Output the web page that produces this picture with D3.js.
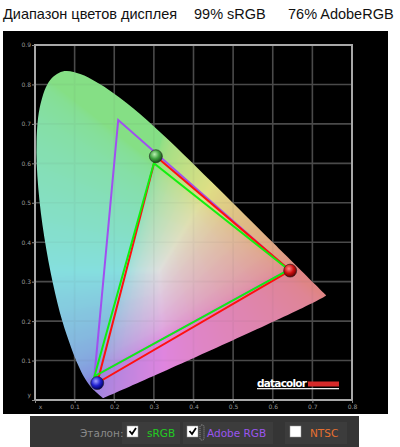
<!DOCTYPE html>
<html><head><meta charset="utf-8">
<script src="https://cdn.jsdelivr.net/npm/d3@7"></script>
<style>body{margin:0;background:#fff;overflow:hidden} svg{display:block}</style>
</head><body>
<svg id="c" width="400" height="447"></svg>
<script>
// ---- data ----
const locusX = [0.1741,0.1733,0.1714,0.1689,0.1644,0.1566,0.1440,0.1241,0.1096,0.0913,0.0687,0.0454,0.0235,0.0082,0.0039,0.0139,0.0389,0.0743,0.1142,0.1547,0.1929,0.2296,0.2658,0.3016,0.3373,0.3731,0.4087,0.4441,0.4788,0.5125,0.5448,0.5752,0.6029,0.6270,0.6658,0.6915,0.7079,0.7190,0.7260,0.7300,0.7334,0.7347];
const locusY = [0.0050,0.0048,0.0051,0.0069,0.0109,0.0177,0.0297,0.0578,0.0868,0.1327,0.2007,0.2950,0.4127,0.5384,0.6548,0.7502,0.8120,0.8338,0.8262,0.8059,0.7816,0.7543,0.7243,0.6923,0.6589,0.6245,0.5896,0.5547,0.5202,0.4866,0.4544,0.4242,0.3965,0.3725,0.3340,0.3083,0.2920,0.2809,0.2740,0.2700,0.2666,0.2653];
const tickValues = [0,0.1,0.2,0.3,0.4,0.5,0.6,0.7,0.8,0.9];
const xTickLabels = ["x","0.1","0.2","0.3","0.4","0.5","0.6","0.7","0.8"];
const yTickLabels = ["y","0.1","0.2","0.3","0.4","0.5","0.6","0.7","0.8","0.9"];
const adobeX = [0.64,0.21,0.15], adobeY = [0.33,0.71,0.06];
const srgbX  = [0.64,0.30,0.15], srgbY  = [0.33,0.60,0.06];
const dispX  = [0.644,0.305,0.157], dispY = [0.328,0.618,0.043];
const titleParts = ["Диапазон цветов дисплея","99% sRGB","76% AdobeRGB"];
const legendLabels = ["Эталон:","sRGB","Adobe RGB","NTSC"];
const legendChecked = [true,true,false];

// ---- layout ----
const svg = d3.select("#c");
const x = d3.scaleLinear().domain([0,0.8]).range([35,352]);
const y = d3.scaleLinear().domain([0,0.9]).range([400,45]);

// title
const titleX = [3,194,288];
svg.selectAll("text.title").data(titleParts).join("text")
  .attr("class","title").attr("x",(d,i)=>titleX[i]).attr("y",19)
  .attr("font-family","'Liberation Sans',Arial,sans-serif").attr("font-size",14.5)
  .attr("fill","#111").text(d=>d);

// black panel
svg.append("rect").attr("x",3).attr("y",31).attr("width",385).attr("height",383).attr("fill","#000");

const defs = svg.append("defs");

// grid
const gridG = svg.append("g");
gridG.selectAll("line.v").data(tickValues.filter(t=>t>0&&t<0.8)).join("line")
  .attr("x1",d=>x(d)).attr("x2",d=>x(d)).attr("y1",y(0.9)).attr("y2",y(0))
  .attr("stroke","#4a4a4a").attr("stroke-width",1.6);
gridG.selectAll("line.h").data(tickValues.filter(t=>t>0&&t<0.9)).join("line")
  .attr("y1",d=>y(d)).attr("y2",d=>y(d)).attr("x1",x(0)).attr("x2",x(0.8))
  .attr("stroke","#4a4a4a").attr("stroke-width",1.6);

// spectral locus
const locus = locusX.map((v,i)=>[v,locusY[i]]);
const locusPath = d3.line().x(d=>x(d[0])).y(d=>y(d[1])).curve(d3.curveCatmullRomClosed.alpha(0.5))(locus);
defs.append("clipPath").attr("id","lc").append("path").attr("d",locusPath);

// colour field via canvas
const W = 320, H = 360;
const cv = document.createElement("canvas"); cv.width=W; cv.height=H;
const ctx = cv.getContext("2d");
const img = ctx.createImageData(W,H);
function enc(c){ c=Math.max(0,Math.min(1,c)); return c<=0.0031308?12.92*c:1.055*Math.pow(c,1/2.4)-0.055; }
for(let j=0;j<H;j++){
  for(let i=0;i<W;i++){
    const cx = x.invert(35+i), cy = Math.max(0.002, y.invert(45+j));
    const X = cx/cy, Y = 1, Z = (1-cx-cy)/cy;
    let r = 3.2406*X-1.5372*Y-0.4986*Z;
    let g = -0.9689*X+1.8758*Y+0.0415*Z;
    let b = 0.0557*X-0.2040*Y+1.0570*Z;
    r=Math.max(0,r); g=Math.max(0,g); b=Math.max(0,b);
    const m = Math.max(r,g,b)||1;
    r=enc(r/m); g=enc(g/m); b=enc(b/m);
    const s = 0.4, k = 0.92;
    r = k*(1-s*(1-r)); g = k*(1-s*(1-g)); b = k*(1-s*(1-b));
    const o = (j*W+i)*4;
    img.data[o]=r*255; img.data[o+1]=g*255; img.data[o+2]=b*255; img.data[o+3]=255;
  }
}
ctx.putImageData(img,0,0);
svg.append("image").attr("x",35).attr("y",45).attr("width",W).attr("height",H)
  .attr("href",cv.toDataURL()).attr("clip-path","url(#lc)").attr("opacity",0.95);

// faint grid over the fill
svg.append("g").attr("clip-path","url(#lc)").attr("opacity",0.05).call(g=>{
  g.selectAll("line.v").data(tickValues.filter(t=>t>0&&t<0.8)).join("line")
   .attr("x1",d=>x(d)).attr("x2",d=>x(d)).attr("y1",y(0.9)).attr("y2",y(0)).attr("stroke","#000").attr("stroke-width",1.6);
  g.selectAll("line.h").data(tickValues.filter(t=>t>0&&t<0.9)).join("line")
   .attr("y1",d=>y(d)).attr("y2",d=>y(d)).attr("x1",x(0)).attr("x2",x(0.8)).attr("stroke","#000").attr("stroke-width",1.6);
});

// frame
svg.append("rect").attr("x",x(0)).attr("y",y(0.9)).attr("width",x(0.8)-x(0)).attr("height",y(0)-y(0.9))
  .attr("fill","none").attr("stroke","#a8a8a8").attr("stroke-width",2);

// axes
const fmtX = d=>xTickLabels[Math.round(d*10)];
const fmtY = d=>yTickLabels[Math.round(d*10)];
const ax = svg.append("g").attr("transform",`translate(0,${y(0)})`)
  .call(d3.axisBottom(x).tickValues(tickValues.filter(t=>t<=0.8)).tickFormat(fmtX).tickSize(3).tickPadding(2));
const ay = svg.append("g").attr("transform",`translate(${x(0)},0)`)
  .call(d3.axisLeft(y).tickValues(tickValues).tickFormat(fmtY).tickSize(3).tickPadding(1));
[ax,ay].forEach(a=>{
  a.select(".domain").remove();
  a.selectAll(".tick line").attr("stroke","#888");
  a.selectAll(".tick text").attr("fill","#9a9a9a").attr("font-size",6).attr("font-family","'DejaVu Sans',sans-serif");
});
ax.selectAll(".tick text").filter(d=>d===0).attr("dx",5);
ay.selectAll(".tick text").filter(d=>d===0).attr("dy","-0.6em");

// gamut triangles
const tri = (xs,ys)=>d3.line().x(d=>x(d[0])).y(d=>y(d[1])).curve(d3.curveLinearClosed)(xs.map((v,i)=>[v,ys[i]]));
svg.append("path").attr("d",tri(adobeX,adobeY)).attr("fill","none").attr("stroke","#a050f0").attr("stroke-width",2);
svg.append("path").attr("d",tri(dispX,dispY)).attr("fill","none").attr("stroke","#ff1010").attr("stroke-width",2);
svg.append("path").attr("d",tri(srgbX,srgbY)).attr("fill","none").attr("stroke","#10f010").attr("stroke-width",2);

// glossy vertex spheres
const sphereCols = [["#ff8a8a","#d01010","#600000"],["#b8f0b0","#3ca03c","#1a4a1a"],["#a0a0ff","#2020d0","#000060"]];
sphereCols.forEach((c,i)=>{
  const gr = defs.append("radialGradient").attr("id","sp"+i).attr("cx","40%").attr("cy","35%").attr("r","65%");
  gr.append("stop").attr("offset","0%").attr("stop-color",c[0]);
  gr.append("stop").attr("offset","55%").attr("stop-color",c[1]);
  gr.append("stop").attr("offset","100%").attr("stop-color",c[2]);
});
svg.selectAll("circle.v").data(dispX.map((v,i)=>[v,dispY[i]])).join("circle")
  .attr("cx",d=>x(d[0])).attr("cy",d=>y(d[1])).attr("r",6.5)
  .attr("fill",(d,i)=>`url(#sp${i})`).attr("stroke","#222").attr("stroke-width",0.6);

// datacolor logo
svg.append("text").attr("x",257).attr("y",387).attr("fill","#fff").attr("font-weight","bold")
  .attr("font-family","'DejaVu Sans',sans-serif").attr("font-size",10.5).attr("textLength",50).text("datacolor");
svg.append("rect").attr("x",308).attr("y",381.5).attr("width",31).attr("height",5).attr("fill","#d62a2a");
svg.append("rect").attr("x",257).attr("y",388).attr("width",82).attr("height",1.3).attr("fill","#eee");

// legend bar
svg.append("rect").attr("x",30).attr("y",416).attr("width",329).attr("height",31).attr("fill","#353535");
svg.append("rect").attr("x",122).attr("y",422).attr("width",58).attr("height",22).attr("fill","#3c3c3c");
svg.append("rect").attr("x",183).attr("y",422).attr("width",90).attr("height",22).attr("fill","#3c3c3c");
svg.append("rect").attr("x",285).attr("y",422).attr("width",62).attr("height",22).attr("fill","#3c3c3c");
const legX = [80,147,207,310], legC = ["#8a8a8a","#22cc22","#9a55ee","#e87030"];
svg.selectAll("text.leg").data(legendLabels).join("text").attr("class","leg")
  .attr("x",(d,i)=>legX[i]).attr("y",437).attr("fill",(d,i)=>legC[i])
  .attr("font-family","'DejaVu Sans',sans-serif").attr("font-size",10.5).text(d=>d);
const boxX = [127,187,290];
legendChecked.forEach((ch,i)=>{
  svg.append("rect").attr("x",boxX[i]).attr("y",426).attr("width",11).attr("height",11).attr("fill","#fff").attr("stroke","#999").attr("stroke-width",0.5);
  if(ch) svg.append("path").attr("d",`M${boxX[i]+2.5},${431} l2.5,3 l4,-6`).attr("fill","none").attr("stroke","#000").attr("stroke-width",1.8);
});
svg.append("rect").attr("x",200).attr("y",425).attr("width",4).attr("height",15).attr("fill","none").attr("stroke","#bbb").attr("stroke-width",0.7).attr("stroke-dasharray","1,1").attr("rx",1.5);
</script>
</body></html>
